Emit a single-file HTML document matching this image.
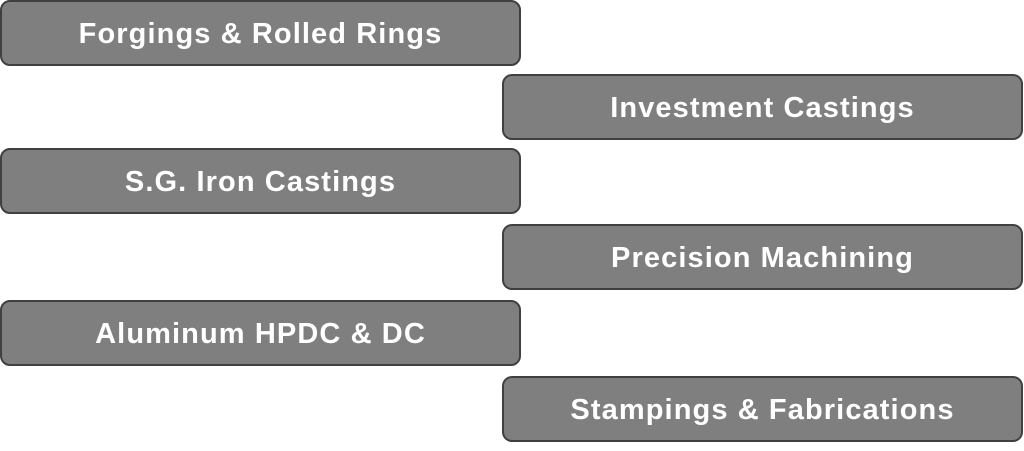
<!DOCTYPE html>
<html><head><style>
body{margin:0;width:1024px;height:451px;background:#fff;position:relative;overflow:hidden}
.b{position:absolute;width:517px;height:60px;padding-top:2px;background:#7f7f7f;border:2px solid #404040;border-radius:10px;color:#fff;font:bold 29px "Liberation Sans",sans-serif;letter-spacing:1.1px;display:flex;align-items:center;justify-content:center;box-sizing:content-box}
.l{left:0px}.r{left:502px}
</style></head><body>
<div class="b l" style="top:0px">Forgings &amp; Rolled Rings</div>
<div class="b r" style="top:74px">Investment Castings</div>
<div class="b l" style="top:148px">S.G. Iron Castings</div>
<div class="b r" style="top:224px">Precision Machining</div>
<div class="b l" style="top:300px">Aluminum HPDC &amp; DC</div>
<div class="b r" style="top:376px">Stampings &amp; Fabrications</div>
</body></html>
